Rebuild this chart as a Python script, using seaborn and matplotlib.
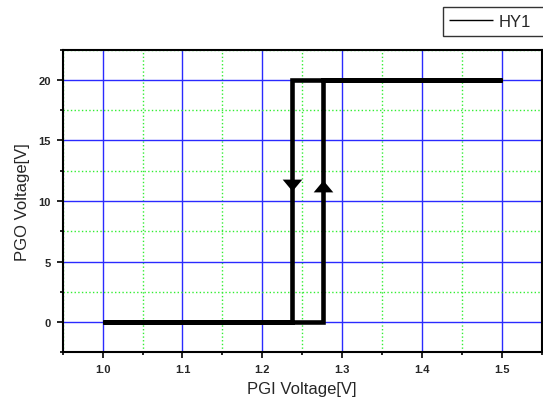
import numpy as np
import pandas as pd
import matplotlib
matplotlib.use('Agg')
import matplotlib.pyplot as plt
from matplotlib.ticker import MultipleLocator
import seaborn as sns

# hysteresis sweep: up along the bottom, down along the top
pgi_v = [1.0, 1.276, 1.276, 1.5, 1.237, 1.237, 1.0]
pgo_v = [0, 0, 20, 20, 20, 0, 0]

# direction arrows on the two switching edges
arrow_up_x = [1.276]
arrow_up_y = [11.2]
arrow_down_x = [1.237]
arrow_down_y = [11.3]

sns.set_style('white')
plt.rcParams['font.family'] = ['Liberation Sans', 'DejaVu Sans']

fig = plt.figure(figsize=(5.43, 4.1), dpi=100)
ax = fig.add_axes([0.1155, 0.1383, 0.8821, 0.738])

df = pd.DataFrame({'PGI': pgi_v, 'PGO': pgo_v})
sns.lineplot(data=df, x='PGI', y='PGO', sort=False, estimator=None,
             color='black', linewidth=3.3, label='HY1', ax=ax,
             solid_joinstyle='miter', solid_capstyle='butt', zorder=5)

down_tri = [(-1, 0.6), (1, 0.6), (0, -0.6), (-1, 0.6)]
up_tri = [(-1, -0.6), (1, -0.6), (0, 0.6), (-1, -0.6)]
sns.scatterplot(x=arrow_down_x, y=arrow_down_y, marker=down_tri, s=200,
                color='black', linewidth=0, ax=ax, zorder=6)
sns.scatterplot(x=arrow_up_x, y=arrow_up_y, marker=up_tri, s=200,
                color='black', linewidth=0, ax=ax, zorder=6)

ax.set_xlim(0.95, 1.55)
ax.set_ylim(-2.5, 22.5)
ax.xaxis.set_major_locator(MultipleLocator(0.1))
ax.xaxis.set_minor_locator(MultipleLocator(0.05))
ax.yaxis.set_major_locator(MultipleLocator(5))
ax.yaxis.set_minor_locator(MultipleLocator(2.5))
ax.set_xticks(np.arange(1.0, 1.51, 0.1))
ax.set_xticklabels(['1.0', '1.1', '1.2', '1.3', '1.4', '1.5'])

ax.grid(which='major', color='#2a2aff', linewidth=1.0, linestyle='-')
ax.grid(which='minor', color='#33ee33', linewidth=1.0, linestyle=':')
ax.set_axisbelow(True)

for sp in ax.spines.values():
    sp.set_color('black')
    sp.set_linewidth(1.5)

ax.tick_params(which='major', direction='out', length=4.5, width=1.2,
               color='black', labelsize=8, pad=4)
ax.tick_params(which='minor', direction='out', length=2.5, width=1.2,
               color='black')
ax.tick_params(axis='x', which='both', bottom=True)
ax.tick_params(axis='y', which='both', left=True)
for lab in ax.get_xticklabels() + ax.get_yticklabels():
    lab.set_fontweight('bold')

ax.set_xlabel('PGI Voltage[V]', fontsize=12, labelpad=5)
ax.set_ylabel('PGO Voltage[V]', fontsize=12, labelpad=6)

ax.legend_.remove()
handles, labels = ax.get_legend_handles_labels()
leg = fig.legend(handles[:1], labels[:1], loc='upper left',
                 bbox_to_anchor=(442.7 / 543, 1 - 8.3 / 410, 0.2, 0),
                 mode='expand', fontsize=12, frameon=True, fancybox=False,
                 edgecolor='black', borderpad=0.4, handlelength=2.6,
                 handletextpad=0.35, borderaxespad=0)
leg.get_frame().set_linewidth(1.0)
leg.get_lines()[0].set_linewidth(1.0)

fig.savefig('out.png', dpi=100)
